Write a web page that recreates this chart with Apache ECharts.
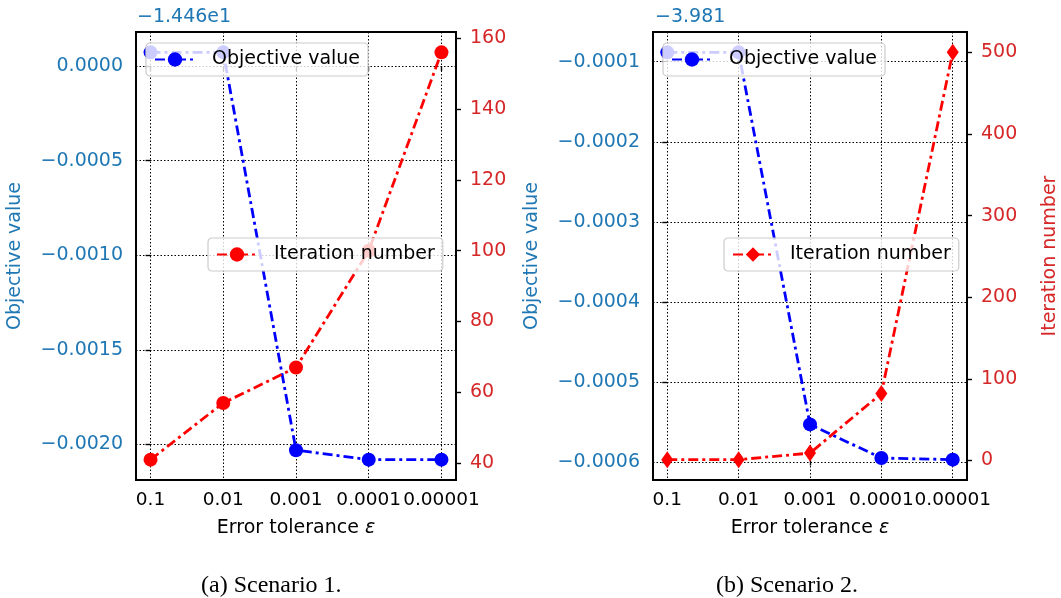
<!DOCTYPE html>
<html>
<head>
<meta charset="utf-8">
<script src="https://cdn.jsdelivr.net/npm/echarts@6/dist/echarts.min.js"></script>
<style>html,body{margin:0;padding:0;background:#fff}</style>
</head>
<body>
<div id="chart" style="width:1061px;height:598px"></div>
<script>
  // x axis categories
  const tolerances = ['0.1', '0.01', '0.001', '0.0001', '0.00001'];

  // scenario 1 (objective shown relative to the offset -1.446e1)
  const offsetA = '\u22121.446e1';
  const objectiveA = [0.0000725, 0.0000725, -0.00203, -0.00208, -0.00208];
  const iterationA = [41, 57, 67, 100, 156];
  const objTicksA = [0, -0.0005, -0.001, -0.0015, -0.002];
  const iterTicksA = [40, 60, 80, 100, 120, 140, 160];

  // scenario 2 (objective shown relative to the offset -3.981)
  const offsetB = '\u22123.981';
  const objectiveB = [-0.0000883, -0.0000883, -0.000553, -0.000595, -0.000597];
  const iterationB = [1, 1, 9, 82, 500];
  const objTicksB = [-0.0001, -0.0002, -0.0003, -0.0004, -0.0005, -0.0006];
  const iterTicksB = [0, 100, 200, 300, 400, 500];

  const captionA = '(a) Scenario 1.';
  const captionB = '(b) Scenario 2.';

  const BLUE_TXT = '#1f77b4';
  const RED_TXT = '#d62728';
  const FONT = 'DejaVu Sans';
  const FS = 19;
  const xIdx = tolerances.map((t, i) => i);

  // matplotlib style 5% margins
  function pad(arr) {
    let lo = Math.min(...arr), hi = Math.max(...arr);
    let m = (hi - lo) * 0.05;
    return {min: lo - m, max: hi + m};
  }

  function pairs(vals) {
    return vals.map((v, i) => [i, v]);
  }

  let chart = echarts.init(document.getElementById('chart'));

  const dotted = {color: '#000', width: 1, type: [1.5, 2]};
  const tickStyle = {color: '#000', width: 1.4};

  function xAxis(gridIndex) {
    return {
      type: 'value', gridIndex: gridIndex, min: -0.2, max: 4.2,
      name: 'Error tolerance {e|\u03b5}', nameLocation: 'middle', nameGap: 39,
      nameTextStyle: {
        color: '#000', fontSize: FS, fontFamily: FONT,
        rich: {e: {fontStyle: 'italic', fontSize: FS, fontFamily: FONT, color: '#000'}}
      },
      axisLine: {show: false},
      axisTick: {show: true, customValues: xIdx, length: 5, lineStyle: tickStyle},
      axisLabel: {
        customValues: xIdx, margin: 11, color: '#000', fontSize: 18.5, fontFamily: FONT,
        hideOverlap: false, showMinLabel: true, showMaxLabel: true,
        formatter: v => tolerances[Math.round(v)]
      },
      splitLine: {show: true, lineStyle: dotted}
    };
  }

  function objAxis(gridIndex, vals, ticks) {
    let ext = pad(vals);
    return {
      type: 'value', gridIndex: gridIndex, position: 'left', min: ext.min, max: ext.max,
      name: 'Objective value', nameLocation: 'middle', nameGap: 111,
      nameTextStyle: {color: BLUE_TXT, fontSize: FS, fontFamily: FONT},
      axisLine: {show: false},
      axisTick: {show: true, customValues: ticks, length: 5, lineStyle: tickStyle},
      axisLabel: {
        customValues: ticks, margin: 13, color: BLUE_TXT, fontSize: FS, fontFamily: FONT,
        formatter: v => v.toFixed(4).replace('-', '\u2212')
      },
      splitLine: {show: true, lineStyle: dotted}
    };
  }

  function iterAxis(gridIndex, vals, ticks, title) {
    let ext = pad(vals);
    return {
      type: 'value', gridIndex: gridIndex, position: 'right', min: ext.min, max: ext.max,
      name: title, nameLocation: 'middle', nameGap: 74,
      nameTextStyle: {color: RED_TXT, fontSize: FS, fontFamily: FONT},
      axisLine: {show: false},
      axisTick: {show: true, customValues: ticks, length: 5, lineStyle: tickStyle},
      axisLabel: {
        customValues: ticks, margin: 14, color: RED_TXT, fontSize: FS, fontFamily: FONT
      },
      splitLine: {show: false}
    };
  }

  function lineSeries(name, x, y, vals, color, symbol, size) {
    return {
      name: name, type: 'line', xAxisIndex: x, yAxisIndex: y,
      data: pairs(vals),
      symbol: symbol, symbolSize: size,
      lineStyle: {color: color, width: 2.8, type: [10, 4, 3, 4]},
      itemStyle: {color: color},
      animation: false
    };
  }

  function legend(name, left, top) {
    return {
      data: [name], left: left, top: top, orient: 'vertical',
      selectedMode: false,
      formatter: n => n.replace(' (b)', ''),
      backgroundColor: 'rgba(255,255,255,0.8)',
      borderColor: '#cccccc', borderWidth: 1.2, borderRadius: 4,
      padding: [7, 8, 7, 8],
      itemWidth: 40, itemHeight: 18,
      textStyle: {color: '#000', fontSize: FS, fontFamily: FONT, padding: [0, 0, 0, 12]}
    };
  }

  let option = {
    backgroundColor: '#fff',
    animation: false,
    grid: [
      {left: 136, top: 32, width: 320, height: 448, show: true, borderColor: '#000', borderWidth: 2},
      {left: 653, top: 32, width: 314, height: 448, show: true, borderColor: '#000', borderWidth: 2}
    ],
    xAxis: [xAxis(0), xAxis(1)],
    yAxis: [
      objAxis(0, objectiveA, objTicksA),
      iterAxis(0, iterationA, iterTicksA, ''),
      objAxis(1, objectiveB, objTicksB),
      iterAxis(1, iterationB, iterTicksB, 'Iteration number')
    ],
    legend: [
      legend('Objective value', 146, 43),
      legend('Iteration number', 208, 238),
      legend('Objective value (b)', 663, 43),
      legend('Iteration number (b)', 724, 238)
    ],
    series: [
      lineSeries('Objective value', 0, 0, objectiveA, '#0000ff', 'circle', 14),
      lineSeries('Iteration number', 0, 1, iterationA, '#ff0000', 'circle', 14),
      lineSeries('Objective value (b)', 1, 2, objectiveB, '#0000ff', 'circle', 14),
      lineSeries('Iteration number (b)', 1, 3, iterationB, '#ff0000', 'diamond', [12, 17])
    ],
    graphic: [
      {type: 'text', left: 137, top: 8, style: {text: offsetA, fill: BLUE_TXT, fontSize: FS, fontFamily: FONT}},
      {type: 'text', left: 655, top: 8, style: {text: offsetB, fill: BLUE_TXT, fontSize: FS, fontFamily: FONT}},
      {type: 'text', left: 201, top: 574, style: {text: captionA, fill: '#000', fontSize: 24, fontFamily: 'Liberation Serif'}},
      {type: 'text', left: 716, top: 574, style: {text: captionB, fill: '#000', fontSize: 24, fontFamily: 'Liberation Serif'}}
    ]
  };
  chart.setOption(option);
</script>
</body>
</html>
